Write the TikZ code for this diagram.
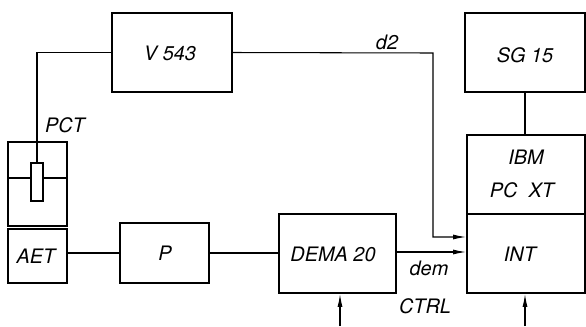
\documentclass[tikz,border=0pt]{standalone}
\usepackage{fontspec}
\setmainfont{TeX Gyre Heros}
\usetikzlibrary{fit,arrows.meta}
\begin{document}
\begin{tikzpicture}[x=0.03cm,y=-0.03cm,
  box/.style={draw, line width=1.6pt, inner sep=0pt},
  conn/.style={line width=0.9pt},
  arr/.style={conn, -{Latex[length=11pt,width=4.2pt]}},
  lbl/.style={font=\fontsize{17}{19}\selectfont\itshape, inner sep=0pt}]
\useasboundingbox (0,0) rectangle (586,326);
% boxes
\node[box, fit={(112,13) (232,92)}] (v) {};
\node[lbl] at (170,53) {V 543};
\node[box, fit={(465,13) (585,92)}] (sg) {};
\node[lbl] at (525,55) {SG 15};
\node[box, fit={(467,135) (585,214)}] (ibm) {};
\node[lbl] (ibmt) at (526,157) {IBM};
\node[lbl] (pcxt) at (522,190) {PC\ \ XT};
\node[box, fit={(467,214) (585,293)}] (int) {};
\node[lbl] at (520,254) {INT};
\node[box, fit={(279,214) (396,293)}] (dema) {};
\node[lbl] at (333,254) {DEMA 20};
\node[box, fit={(120,223) (209,283)}] (p) {};
\node[lbl] at (165,253) {P};
\node[box, fit={(8,142) (67,226)}] (vessel) {};
\node[box, fit={(8,229) (67,283)}] (aet) {};
\node[lbl] at (36,256) {AET};
\node[box, line width=1.3pt, fit={(31,163) (43,201)}] (el) {};
\node[lbl] at (65,125) {PCT};
% electrode cross line
\coordinate (hy) at (0,178);
\draw[conn] (vessel.west |- hy) -- (el.west |- hy);
\draw[conn] (el.east |- hy) -- (vessel.east |- hy);
% connectors
\draw[conn] (v.west) -| (el.north);
\draw[conn] (p.west -| aet.east) -- (p.west);
\draw[conn] (p.east) -- (p.east -| dema.west);
\draw[conn] (sg.south) -- (sg.south |- ibm.north);
\coordinate (d2x) at (433,53);
\coordinate (d2y) at (0,237);
\coordinate (demy) at (0,252);
\draw[arr] (v.east) -- (d2x) |- (int.west |- d2y);
\node[lbl] at (387,42) {d2};
\draw[arr] (dema.east |- demy) -- (int.west |- demy);
\node[lbl] at (429,268) {dem};
\node[lbl] at (425,306) {CTRL};
\coordinate (c1) at (340,326);
\coordinate (c2) at (525,326);
\draw[arr] (c1) -- (c1 |- dema.south);
\draw[arr] (c2) -- (c2 |- int.south);
\end{tikzpicture}
\end{document}
